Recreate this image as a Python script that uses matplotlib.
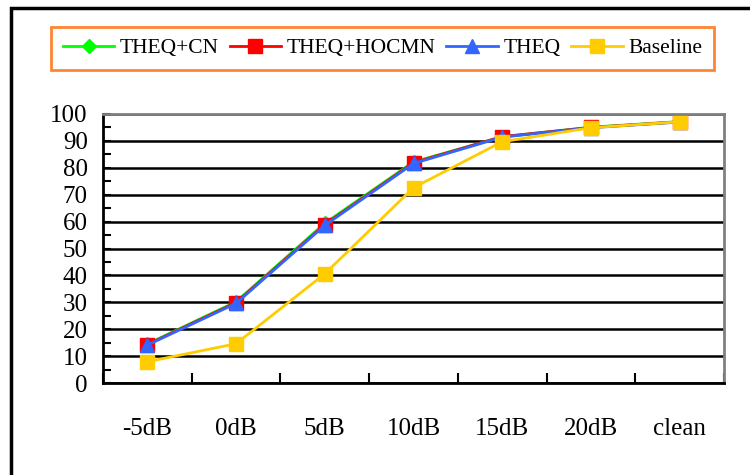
import matplotlib
matplotlib.use('Agg')
import matplotlib.pyplot as plt
from matplotlib.patches import Rectangle
from matplotlib.ticker import MultipleLocator, FixedLocator

plt.rcParams['font.family'] = ['Liberation Serif', 'DejaVu Serif']

# データ
categories = ['-5dB', '0dB', '5dB', '10dB', '15dB', '20dB', 'clean']
theq_cn = [14.5, 30.2, 59.4, 82.2, 91.5, 95.1, 97.2]
theq_hocmn = [14.3, 29.9, 58.9, 81.9, 91.6, 95.0, 97.1]
theq = [14.1, 29.6, 58.6, 81.6, 91.4, 94.9, 97.0]
baseline = [7.9, 14.6, 40.6, 72.6, 89.7, 94.9, 97.1]

fig = plt.figure(figsize=(7.5, 4.75), dpi=100)
ax = fig.add_axes([103 / 750, 92 / 475, 621 / 750, 269 / 475])

x = list(range(len(categories)))
ax.plot(x, theq_cn, color='#00FF00', marker='D', markersize=7, lw=2, label='THEQ+CN')
ax.plot(x, theq_hocmn, color='#FF0000', marker='s', markersize=9.5, lw=2, label='THEQ+HOCMN')
ax.plot(x, theq, color='#3366FF', marker='^', markersize=10.5, lw=2, label='THEQ')
ax.plot(x, baseline, color='#FFCC00', marker='s', markersize=9.5, lw=2, label='Baseline')

ax.set_xlim(-0.5, len(categories) - 0.5)
ax.set_ylim(0, 100)

# y軸
ax.yaxis.set_major_locator(MultipleLocator(10))
ax.yaxis.set_minor_locator(MultipleLocator(5))
ax.yaxis.grid(True, which='major', color='black', lw=1.8)
ax.set_axisbelow(True)
ax.tick_params(axis='y', which='both', direction='in', length=6, width=1.5, color='black')
ax.tick_params(axis='y', which='major', labelsize=18, pad=11)

# x軸 目盛りは区切り位置、ラベルは中央
ax.set_xticks(x)
ax.set_xticklabels(categories)
ax.xaxis.set_minor_locator(FixedLocator([i - 0.5 for i in range(len(categories) + 1)]))
ax.tick_params(axis='x', which='major', length=0, labelsize=18, pad=25)
ax.tick_params(axis='x', which='minor', direction='in', length=7, width=1.5, color='black')

ax.spines['left'].set_color('black')
ax.spines['left'].set_linewidth(2)
ax.spines['bottom'].set_color('black')
ax.spines['bottom'].set_linewidth(2)
ax.spines['top'].set_color('#808080')
ax.spines['top'].set_linewidth(2)
ax.spines['right'].set_color('#808080')
ax.spines['right'].set_linewidth(2)

# 凡例
leg = fig.legend(loc='center', bbox_to_anchor=(0.51, 0.898), ncol=4, fontsize=15.5,
                 frameon=True, fancybox=False, handlelength=2.4, handletextpad=0.25,
                 columnspacing=0.5, borderpad=0.55, borderaxespad=0)
leg.get_frame().set_edgecolor('#FF6600')
leg.get_frame().set_linewidth(2)

# 外枠
fig.add_artist(Rectangle((10.5 / 750, -0.1), 1.2, 1.1 - 8.5 / 475, transform=fig.transFigure,
                         fill=False, edgecolor='black', lw=2.5))

fig.savefig('out.png', dpi=100)
